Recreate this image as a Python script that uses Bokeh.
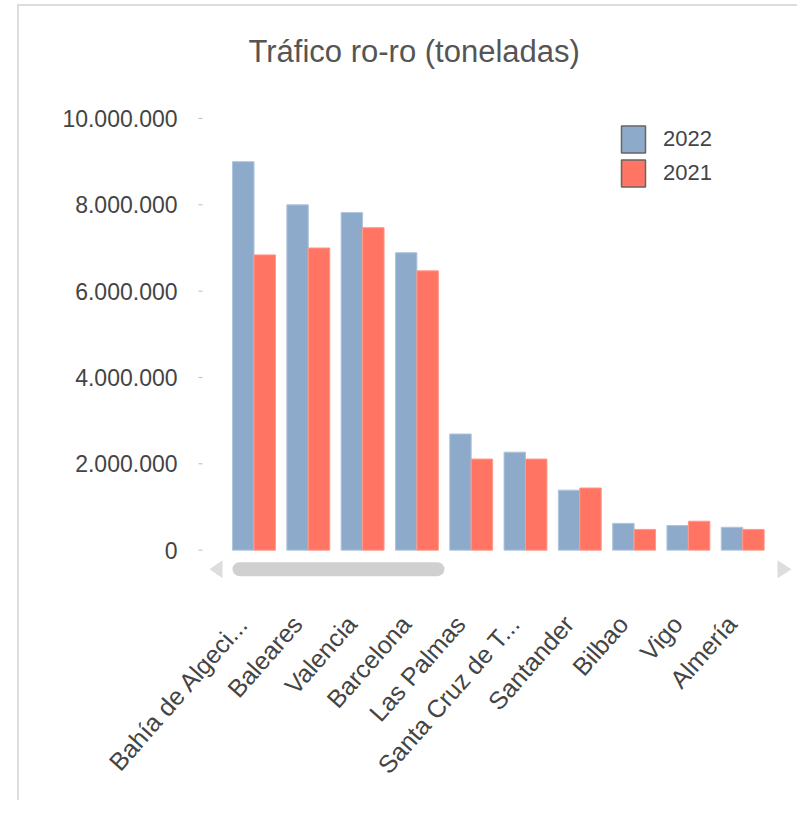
from bokeh.plotting import figure
from bokeh.models import ColumnDataSource, Range1d, Legend, LegendItem
from bokeh.core.properties import value
from bokeh.transform import dodge
from bokeh.embed import file_html
from bokeh.resources import INLINE

categories = ["Bahía de Algeci...", "Baleares", "Valencia", "Barcelona", "Las Palmas",
              "Santa Cruz de T...", "Santander", "Bilbao", "Vigo", "Almería"]
v2022 = [9000000, 8000000, 7820000, 6890000, 2690000, 2270000, 1390000, 620000, 570000, 530000]
v2021 = [6840000, 7000000, 7470000, 6470000, 2110000, 2110000, 1440000, 480000, 670000, 480000]
y_ticks = [0, 2000000, 4000000, 6000000, 8000000, 10000000]
series = ["2022", "2021"]

BLUE = "#8EAACB"
RED = "#FF7462"
FONT = value("Liberation Sans")

idx = list(range(len(categories)))
src = ColumnDataSource(dict(x=idx, v22=v2022, v21=v2021, cat=categories))
tick_src = ColumnDataSource(dict(y=y_ticks,
                                 lab=[f"{t:,}".replace(",", ".") for t in y_ticks]))

# scale: 54.3 px per category, 43.1 px per million
PX = 54.3
def xpx(px):  # horizontal pixel -> data x (category 0 centre at 253.5 px)
    return (px - 253.5) / PX

p = figure(width=797, height=800, output_backend="svg", toolbar_location=None,
           x_range=Range1d(xpx(0), xpx(797)), y_range=Range1d(-5800000, 10440000),
           min_border_left=0, min_border_right=0, min_border_top=0, min_border_bottom=0)
p.title.text = "Tráfico ro-ro (toneladas)"
p.title.text_font = "Liberation Sans"
p.title.text_font_size = "31px"
p.title.text_font_style = "normal"
p.title.text_color = "#555555"
p.title.align = "left"
p.title.offset = 248
p.title.standoff = 62

p.outline_line_color = None
p.grid.visible = False
p.axis.visible = False
p.background_fill_alpha = 0
p.border_fill_alpha = 0
# light outer frame of the chart container (left and top edges)
p.styles = {"background": "linear-gradient(#DDDDDD,#DDDDDD) 17px 4px / 2px 100% no-repeat, "
                          "linear-gradient(#DDDDDD,#DDDDDD) 17px 4px / 100% 2px no-repeat, white"}

bw = 0.395
p.vbar(x=dodge("x", -bw / 2, range=p.x_range), top="v22", width=bw, source=src,
       fill_color=BLUE, line_color="#AFC4DE", line_width=1)
p.vbar(x=dodge("x", bw / 2, range=p.x_range), top="v21", width=bw, source=src,
       fill_color=RED, line_color="#FF9888", line_width=1)

# y axis: tick marks and labels
p.segment(x0=xpx(198), x1=xpx(202), y0="y", y1="y", source=tick_src,
          line_color="#BBBBBB", line_width=1)
p.text(x=xpx(177), y="y", text="lab", source=tick_src, text_align="right",
       text_baseline="middle", text_font=FONT, text_font_size="23px", text_color="#444444")

# category labels (rotated)
p.text(x="x", y=-1440000, text="cat", source=src, angle=0.85,
       text_align="right", text_baseline="middle", x_offset=-11, y_offset=7,
       text_font=FONT, text_font_size="25px", text_color="#444444")

# legend proxies (NaN -> draw nothing in plot)
nan = float("nan")
proxy = ColumnDataSource(dict(x=[nan], top=[nan]))
l22 = p.vbar(x="x", top="top", width=bw, source=proxy,
             fill_color=BLUE, line_color="#666666", line_width=1.5)
l21 = p.vbar(x="x", top="top", width=bw, source=proxy,
             fill_color=RED, line_color="#666666", line_width=1.5)
legend = Legend(items=[LegendItem(label=series[0], renderers=[l22]),
                       LegendItem(label=series[1], renderers=[l21])],
                location=(618, 610), padding=0, margin=0, spacing=0,
                glyph_width=30, glyph_height=34, label_height=34, label_standoff=15,
                label_text_font="Liberation Sans", label_text_font_size="22px",
                label_text_color="#444444", border_line_color=None,
                background_fill_alpha=0)
p.add_layout(legend, "center")

# scrollbar decoration
p.quad(left=[xpx(232)], right=[xpx(444)], bottom=[-603000], top=[-278000],
       fill_color="#D0D0D0", line_color=None, border_radius=7)
p.patch(x=[xpx(209), xpx(222), xpx(222)],
        y=[-441000, -232000, -650000], fill_color="#DDDDDD", line_color=None)
p.patch(x=[xpx(777), xpx(777), xpx(791)],
        y=[-232000, -650000, -441000], fill_color="#DDDDDD", line_color=None)

open("out.html", "w").write(file_html(p, INLINE))
